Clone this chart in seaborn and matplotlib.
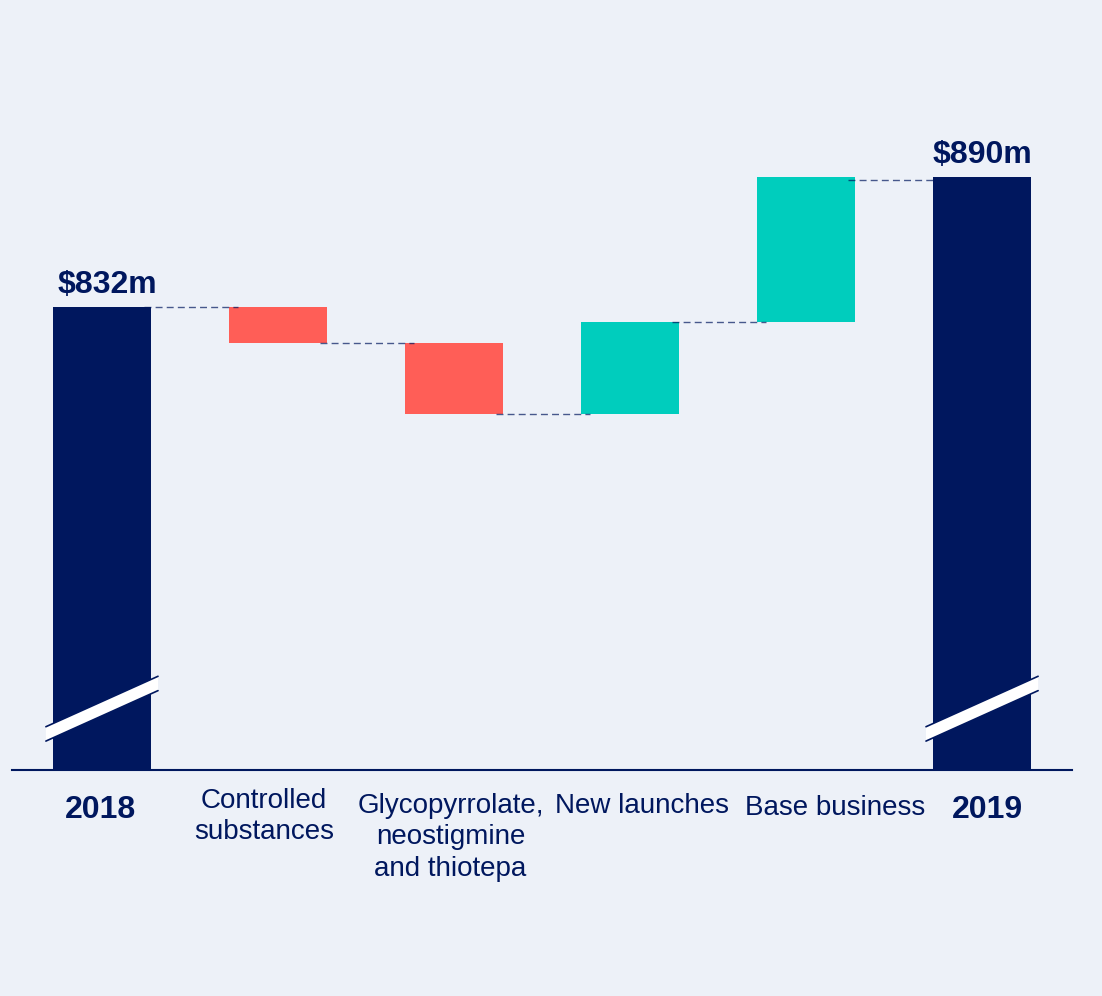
import matplotlib
matplotlib.use("Agg")
import matplotlib.pyplot as plt
import seaborn as sns
import numpy as np
import pandas as pd

# ---- data ----
categories = ["2018", "Controlled\nsubstances", "Glycopyrrolate,\nneostigmine\nand thiotepa",
              "New launches", "Base business", "2019"]
start_total = 832
changes = [-16, -32, 41, 65]
end_total = 890
value_labels = ["$832m", "$890m"]

NAVY = "#00175E"
RED = "#FF5E57"
TEAL = "#00CDBD"
BG = "#EDF1F8"

sns.set_theme(style="white")
plt.rcParams['font.family'] = ['Liberation Sans', 'DejaVu Sans']

# waterfall geometry computed from the data
levels = [start_total]
for c in changes:
    levels.append(levels[-1] + c)
lows, highs, colors = [0], [start_total], [NAVY]
for i, c in enumerate(changes):
    a, b = levels[i], levels[i + 1]
    lows.append(min(a, b))
    highs.append(max(a, b))
    colors.append(TEAL if c > 0 else RED)
lows.append(0)
highs.append(end_total)
colors.append(NAVY)

df = pd.DataFrame({"cat": categories, "high": highs, "low": lows})

fig = plt.figure(figsize=(11.02, 9.96), dpi=100, facecolor=BG)
ax = fig.add_axes([12 / 1102, (996 - 770) / 996, (1072 - 12) / 1102, (770 - 40) / 996])
ax.set_facecolor(BG)

bw = 0.557
sns.barplot(data=df, x="cat", y="high", hue="cat", palette=colors, legend=False,
            width=bw, linewidth=0, saturation=1, ax=ax)
# mask lower part of floating bars
mask = df.copy()
mask.loc[[0, len(df) - 1], "low"] = 0
sns.barplot(data=mask, x="cat", y="low", hue="cat", palette=[BG] * len(df), legend=False,
            width=bw + 0.01, linewidth=0, saturation=1, ax=ax)

ymin = 625.4
ymax = 951
ax.set_ylim(ymin, ymax)
ax.set_xlim(-0.511, 5.511)

# connectors
for i in range(len(categories) - 1):
    y = end_total if i == len(categories) - 2 else levels[i]
    x0 = i + bw / 2 - 0.04
    x1 = i + 1 - bw / 2 + 0.05
    if i == len(categories) - 2:
        y = y - 1.3
    ax.plot([x0, x1], [y, y], color=NAVY, lw=1, ls=(0, (5, 3)), alpha=0.7, zorder=5)

# value labels
for idx, lab, v, dx in [(0, value_labels[0], start_total, 0.03), (5, value_labels[1], end_total, 0.0)]:
    ax.text(idx + dx, v + 3, lab, ha="center", va="bottom", fontsize=23, fontweight="bold",
            color=NAVY)

# axis break marks on total bars
for idx in [0, 5]:
    xl, xr = idx - bw / 2 - 0.04, idx + bw / 2 + 0.04
    yl, yr = 641.5, 664
    th = 3.2
    poly = plt.Polygon([[xl, yl - th], [xr, yr - th], [xr, yr + th], [xl, yl + th]],
                       closed=True, facecolor="white", edgecolor="none", zorder=6)
    ax.add_patch(poly)
    for s in (-1, 1):
        ax.plot([xl, xr], [yl + s * th, yr + s * th], color=NAVY, lw=1.2, zorder=7)

for side in ["top", "right", "left"]:
    ax.spines[side].set_visible(False)
ax.spines["bottom"].set_color(NAVY)
ax.spines["bottom"].set_linewidth(1.5)
ax.spines["bottom"].set_zorder(8)
ax.set_yticks([])
ax.set_xlabel("")
ax.set_ylabel("")
ax.set_xticks([])

# category labels (slightly offset as in the reference layout)
label_dx = [-0.01, -0.08, -0.02, 0.07, 0.165, 0.03]
label_top = [795, 788, 793, 793, 795, 795]  # pixel rows of label tops
trans = matplotlib.transforms.blended_transform_factory(ax.transData, fig.transFigure)
for i, lab in enumerate(categories):
    bold = i in (0, 5)
    ax.text(i + label_dx[i], 1 - label_top[i] / 996, lab, transform=trans,
            ha="center", va="top", fontsize=23 if bold else 20,
            fontweight="bold" if bold else "normal", color=NAVY, linespacing=1.27)

fig.savefig("out.png", dpi=100, facecolor=BG)
